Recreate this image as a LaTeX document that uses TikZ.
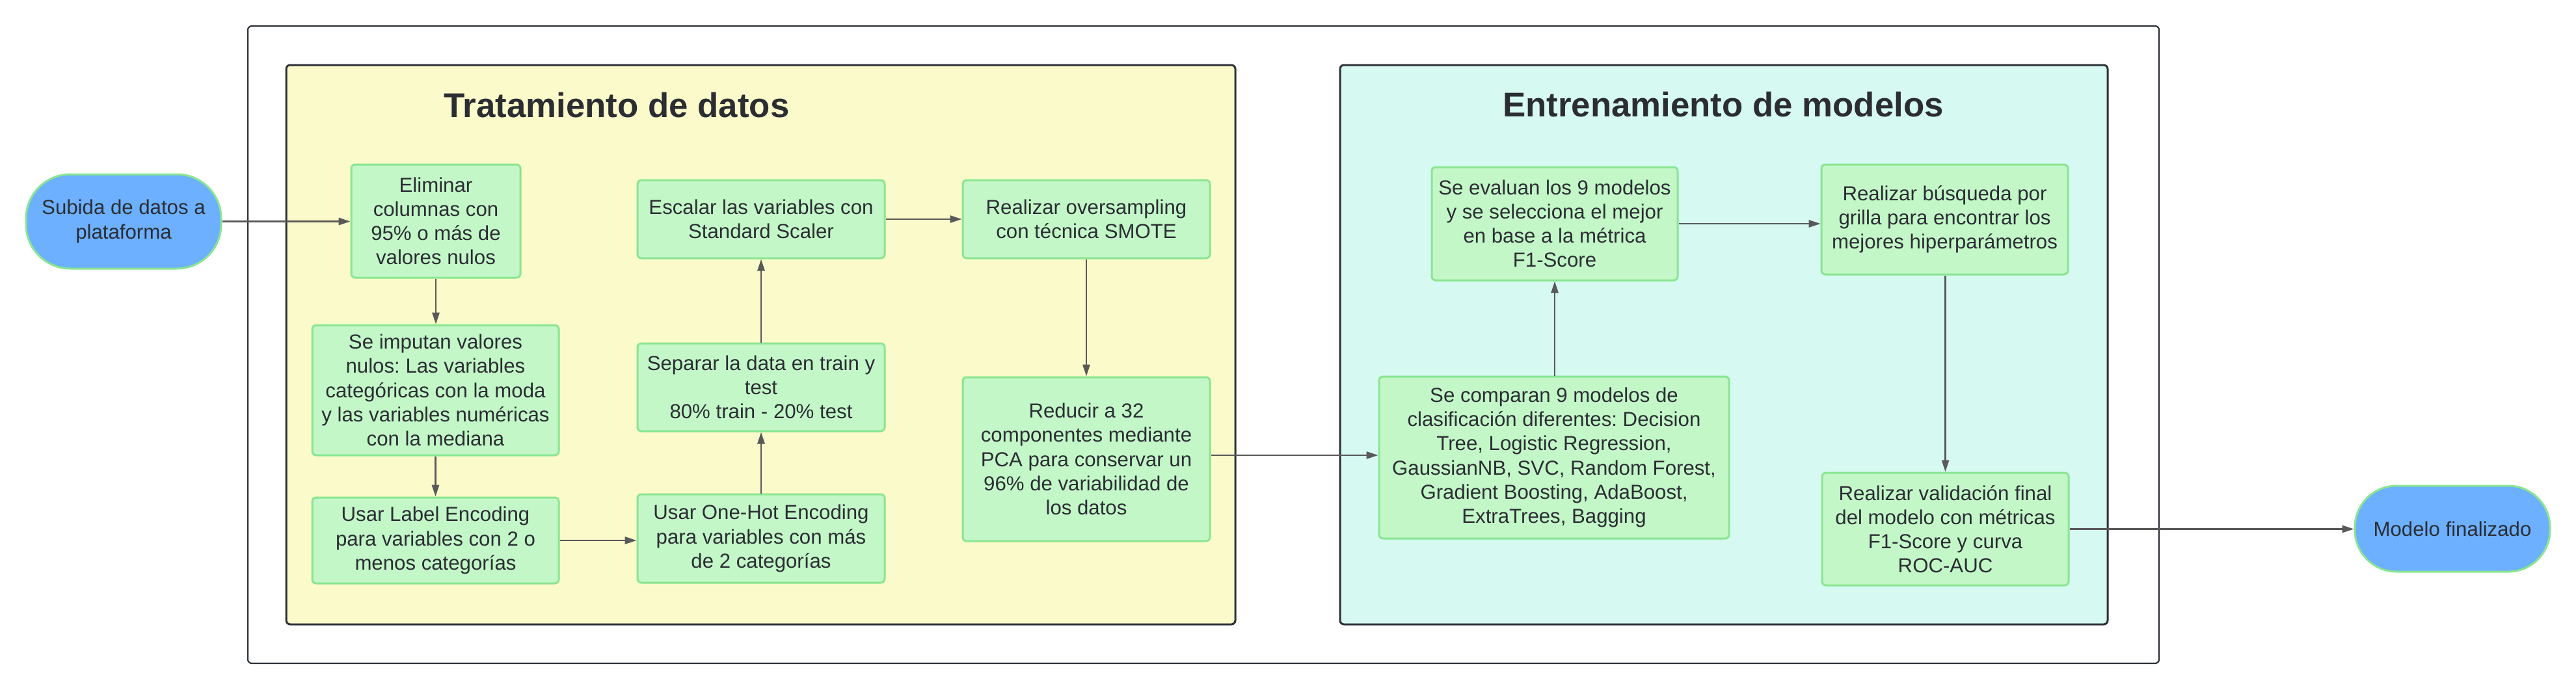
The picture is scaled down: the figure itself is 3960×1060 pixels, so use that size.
\documentclass[tikz,border=0pt]{standalone}
\usepackage{fontspec}
\setmainfont{Liberation Sans}
\usetikzlibrary{arrows.meta}
\frenchspacing
\definecolor{txt}{HTML}{2B2D33}
\definecolor{frame}{HTML}{2B2F36}
\definecolor{yel}{HTML}{FBFACA}
\definecolor{cya}{HTML}{D6F9F2}
\definecolor{gfill}{HTML}{C3F7C8}
\definecolor{gline}{HTML}{8AE591}
\definecolor{blu}{HTML}{6CB0FF}
\definecolor{arr}{HTML}{595959}
\tikzset{
  gbox/.style={draw=gline, fill=gfill, line width=0.75pt, rounded corners=1.5pt,
    align=center, inner sep=0pt, text=txt, font=\fontsize{7.8pt}{9.3pt}\selectfont\frenchspacing},
  term/.style={draw=gline, fill=blu, line width=0.75pt, rounded corners=17pt,
    align=center, inner sep=0pt, text=txt, font=\fontsize{7.8pt}{9.3pt}\selectfont\frenchspacing},
  container/.style={draw=frame, line width=0.75pt, rounded corners=1.5pt},
  ttl/.style={text=txt, font=\fontsize{13.2pt}{15pt}\selectfont\bfseries, anchor=base, inner sep=0pt},
  flow/.style={draw=arr, line width=0.6pt, -{Triangle[length=4.5pt,width=2.8pt]}}
}
\begin{document}
\begin{tikzpicture}[x=0.25pt,y=-0.25pt]
\useasboundingbox (0,0) rectangle (3960,1060);
% containers
\draw[container, line width=0.55pt] (381,40) rectangle (3319,1020);
\draw[container, fill=yel] (440,100) rectangle (1899,960);
\draw[container, fill=cya] (2060,100) rectangle (3240,960);
\node[ttl] (t1) at (948,180) {Tratamiento de datos};
\node[ttl] (t2) at (2649,179) {Entrenamiento de modelos};
% nodes
\node[term, minimum width=75pt, minimum height=36.25pt] (sub) at (190,340.5) {Subida de datos a\\plataforma};
\node[gbox, minimum width=65pt, minimum height=43.5pt] (elim) at (670,340) {Eliminar\\columnas con\\95\% o más de\\valores nulos};
\node[gbox, minimum width=94.75pt, minimum height=50pt] (imp) at (669.5,600) {Se imputan valores\\nulos: Las variables\\categóricas con la moda\\y las variables numéricas\\con la mediana};
\node[gbox, minimum width=94.75pt, minimum height=33pt] (label) at (669.5,831) {Usar Label Encoding\\para variables con 2 o\\menos categorías};
\node[gbox, minimum width=95pt, minimum height=34pt] (onehot) at (1170,828) {Usar One-Hot Encoding\\para variables con más\\de 2 categorías};
\node[gbox, minimum width=95pt, minimum height=33.75pt] (sep) at (1170,595.5) {Separar la data en train y\\test\\80\% train - 20\% test};
\node[gbox, minimum width=95pt, minimum height=30pt] (esc) at (1170,337) {Escalar las variables con\\Standard Scaler};
\node[gbox, minimum width=95pt, minimum height=30pt] (over) at (1670,337) {Realizar oversampling\\con técnica SMOTE};
\node[gbox, minimum width=95pt, minimum height=63pt] (red) at (1670,706) {Reducir a 32\\componentes mediante\\PCA para conservar un\\96\% de variabilidad de\\los datos};
\node[gbox, minimum width=134.5pt, minimum height=62.25pt] (comp) at (2389,703.5) {Se comparan 9 modelos de\\clasificación diferentes: Decision\\Tree, Logistic Regression,\\GaussianNB, SVC, Random Forest,\\Gradient Boosting, AdaBoost,\\ExtraTrees, Bagging};
\node[gbox, minimum width=94.5pt, minimum height=43.5pt] (eva) at (2390,344) {Se evaluan los 9 modelos\\y se selecciona el mejor\\en base a la métrica\\F1-Score};
\node[gbox, minimum width=94.75pt, minimum height=42.25pt] (bus) at (2989.5,337.5) {Realizar búsqueda por\\grilla para encontrar los\\mejores hiperparámetros};
\node[gbox, minimum width=94.75pt, minimum height=43.25pt] (val) at (2990.5,813.5) {Realizar validación final\\del modelo con métricas\\F1-Score y curva\\ROC-AUC};
\node[term, minimum width=75pt, minimum height=33pt, rounded corners=16pt] (fin) at (3770,813) {Modelo finalizado};
% connectors
\draw[flow] (sub.east) -- (sub.east -| elim.west);
\draw[flow] (elim.south) -- (elim.south |- imp.north);
\draw[flow] (imp.south) -- (imp.south |- label.north);
\draw[flow] (label.east) -- (label.east -| onehot.west);
\draw[flow] (onehot.north) -- (onehot.north |- sep.south);
\draw[flow] (sep.north) -- (sep.north |- esc.south);
\draw[flow] (esc.east) -- (esc.east -| over.west);
\draw[flow] (over.south) -- (over.south |- red.north);
\draw[flow] ([yshift=1.5pt]red.east) -- ([yshift=1.5pt]red.east -| comp.west);
\draw[flow] (comp.north -| eva.south) -- (eva.south);
\draw[flow] (eva.east) -- (eva.east -| bus.west);
\draw[flow] (bus.south -| val.north) -- (val.north);
\draw[flow] (val.east) -- (val.east -| fin.west);
\end{tikzpicture}
\end{document}
